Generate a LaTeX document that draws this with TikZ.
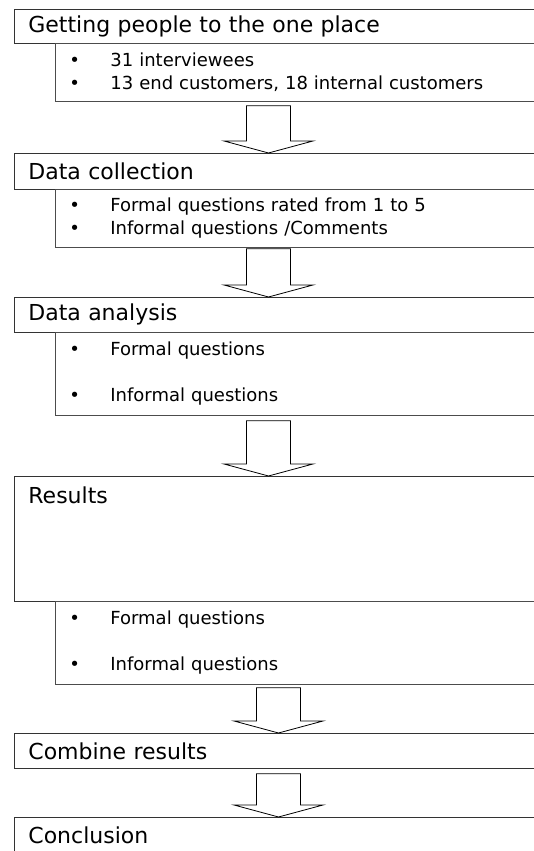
\documentclass[tikz,border=0pt]{standalone}
\usepackage{fontspec}
\setmainfont{DejaVu Sans}
\usetikzlibrary{calc}
\newcommand{\itm}[1]{\makebox[41pt][l]{\textbullet}#1}

\begin{document}
\begin{tikzpicture}[x=1pt,y=1pt,
  head/.style={draw=black!80, line width=0.8pt, anchor=north west, inner xsep=14pt, inner ysep=0pt,
    text width=498pt, align=left, font=\fontsize{22}{26}\selectfont},
  items/.style={draw=black!70, line width=0.8pt, anchor=north west, inner xsep=14pt, inner ysep=0pt,
    text width=457pt, align=left, font=\fontsize{18}{23}\selectfont},
  bigarrow/.style={draw=black, fill=white, line width=0.8pt}]
\useasboundingbox (0,0) rectangle (534,851);
\node[head, minimum height=34pt] (GP) at (14,842){Getting people to the one place};
\node[items, minimum height=58pt] (GPi) at (55,808){\itm{31 interviewees}\\ \itm{13 end customers, 18 internal customers}};
\node[head, minimum height=36pt] (DC) at (14,698){Data collection};
\node[items, minimum height=58pt] (DCi) at (55,662){\itm{Formal questions rated from 1 to 5}\\ \itm{Informal questions /Comments}};
\node[head, minimum height=35pt] (DA) at (14,554){Data analysis};
\node[items, minimum height=83pt] (DAi) at (55,519){\itm{Formal questions}\\[23pt] \itm{Informal questions}};
\node[head, text height=27pt, text depth=98pt] (RS) at (14,375){Results};
\node[items, minimum height=83pt] (RSi) at (55,250){\itm{Formal questions}\\[23pt] \itm{Informal questions}};
\node[head, minimum height=35pt] (CR) at (14,118){Combine results};
\node[head, minimum height=36pt] (CN) at (14,34){Conclusion};
\foreach \from/\to/\ax/\gap in
{GPi/DC/268.5/4,DCi/DA/268.5/1,DAi/RS/268.5/5,RSi/CR/278.5/3,CR/CN/278.5/5}
\draw[bigarrow] let \p1=(\from.south), \p2=(\to.north) in
  (\ax pt-22pt,\y1-\gap pt) -- (\ax pt+22pt,\y1-\gap pt) -- (\ax pt+22pt,\y2+12pt)
  -- (\ax pt+44.5pt,\y2+12pt) -- (\ax pt,\y2) -- (\ax pt-44.5pt,\y2+12pt)
  -- (\ax pt-22pt,\y2+12pt) -- cycle;
\end{tikzpicture}
\end{document}
